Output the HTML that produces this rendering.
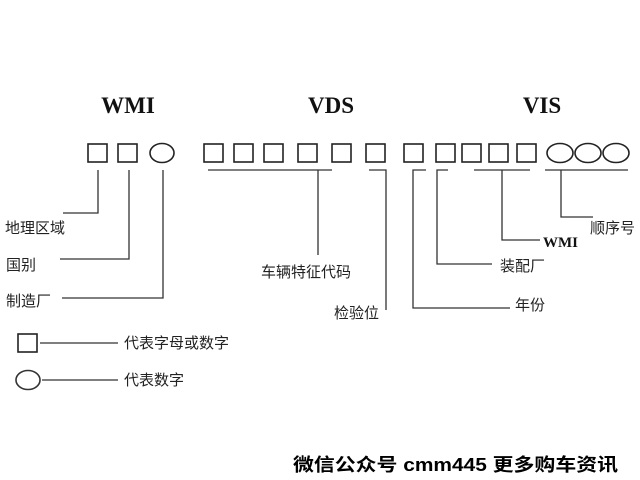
<!DOCTYPE html>
<html><head><meta charset="utf-8"><style>
html,body{margin:0;padding:0;background:#fff;width:640px;height:480px;overflow:hidden}
svg{display:block}
.s{font-family:"Liberation Serif","Noto Serif CJK SC",serif;font-weight:bold;fill:#111}
.c{font-family:"Liberation Sans","Noto Sans CJK SC",sans-serif;fill:#222;font-size:15px}
</style></head><body>
<svg width="640" height="480" viewBox="0 0 640 480" xmlns="http://www.w3.org/2000/svg">
<g class="s" font-size="23" text-anchor="middle">
<text x="128" y="113">WMI</text><text x="331" y="113">VDS</text><text x="542" y="113">VIS</text>
</g>
<g fill="none" stroke="#222" stroke-width="1.6">
<rect x="88" y="144" width="19" height="18"/><rect x="118" y="144" width="19" height="18"/>
<ellipse cx="162" cy="153" rx="12" ry="9.5"/>
<rect x="204" y="144" width="19" height="18"/><rect x="234" y="144" width="19" height="18"/>
<rect x="264" y="144" width="19" height="18"/><rect x="298" y="144" width="19" height="18"/>
<rect x="332" y="144" width="19" height="18"/><rect x="366" y="144" width="19" height="18"/>
<rect x="404" y="144" width="19" height="18"/><rect x="436" y="144" width="19" height="18"/>
<rect x="462" y="144" width="19" height="18"/><rect x="489" y="144" width="19" height="18"/>
<rect x="517" y="144" width="19" height="18"/>
<ellipse cx="560" cy="153" rx="13" ry="9.5"/><ellipse cx="588" cy="153" rx="13" ry="9.5"/><ellipse cx="616" cy="153" rx="13" ry="9.5"/>
</g>
<g fill="none" stroke="#333" stroke-width="1.3">
<polyline points="98,170 98,213 63,213"/>
<polyline points="129,170 129,259 60,259"/>
<polyline points="163,170 163,298 62,298"/>
<line x1="208" y1="170" x2="332" y2="170"/><line x1="318" y1="170" x2="318" y2="255"/>
<polyline points="369,170 386,170 386,310"/>
<polyline points="426,170 413,170 413,308 510,308"/>
<polyline points="448,170 437,170 437,264 492,264"/>
<line x1="474" y1="170" x2="530" y2="170"/><polyline points="502,170 502,240 540,240"/>
<line x1="545" y1="170" x2="628" y2="170"/><polyline points="561,170 561,217 593,217"/>
<line x1="40" y1="343" x2="118" y2="343"/><line x1="42" y1="380" x2="118" y2="380"/>
</g>
<rect x="18" y="334" width="19" height="18" fill="none" stroke="#222" stroke-width="1.6"/>
<ellipse cx="28" cy="380" rx="12" ry="9.5" fill="none" stroke="#333" stroke-width="1.6"/>
<g class="c">
<text x="5" y="233">地理区域</text>
<text x="6" y="270">国别</text>
<text x="6" y="306">制造厂</text>
<text x="261" y="277">车辆特征代码</text>
<text x="334" y="318">检验位</text>
<text x="515" y="310">年份</text>
<text x="500" y="271">装配厂</text>
<text x="590" y="233">顺序号</text>
<text x="124" y="348">代表字母或数字</text>
<text x="124" y="385">代表数字</text>
</g>
<text class="s" x="543" y="247" font-size="15">WMI</text>
<text x="293" y="471" textLength="325" lengthAdjust="spacingAndGlyphs" font-family="Liberation Sans,'Noto Sans CJK SC',sans-serif" font-weight="bold" font-size="18" fill="#000">微信公众号 cmm445 更多购车资讯</text>
</svg>
</body></html>
